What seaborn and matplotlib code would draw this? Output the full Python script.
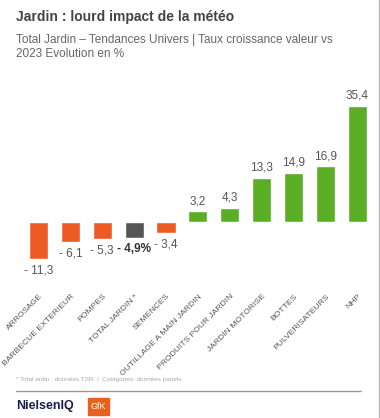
import matplotlib
matplotlib.use('Agg')
import matplotlib.pyplot as plt
import matplotlib.patches as mpatches
import matplotlib.transforms as mtransforms
import seaborn as sns

# data
categories = ['ARROSAGE', 'BARBECUE EXTERIEUR', 'POMPES', 'TOTAL JARDIN *', 'SEMENCES',
              'OUTILLAGE A MAIN JARDIN', 'PRODUITS POUR JARDIN', 'JARDIN MOTORISE',
              'BOTTES', 'PULVERISATEURS', 'NHP']
values = [-11.3, -6.1, -5.3, -4.9, -3.4, 3.2, 4.3, 13.3, 14.9, 16.9, 35.4]
total_label = 'TOTAL JARDIN *'

ORANGE = '#EE5A24'
GREEN = '#59AE26'
DARK = '#555555'

colors = {}
for c, v in zip(categories, values):
    if c == total_label:
        colors[c] = DARK
    elif v < 0:
        colors[c] = ORANGE
    else:
        colors[c] = GREEN

sns.set_style('white')
plt.rcParams['font.family'] = ['Liberation Sans', 'DejaVu Sans']

W, H = 380, 418
fig = plt.figure(figsize=(W / 100, H / 100), dpi=100)
ax = fig.add_axes([22.6 / W, (H - 267.6) / H, 350.4 / W, 170.6 / H])

sns.barplot(x=categories, y=values, hue=categories, palette=colors, legend=False,
            width=0.6, saturation=1, ax=ax)
ax.set_xlim(-0.5, len(categories) - 0.5)
ax.set_ylim(-14, 38)
ax.set_yticks([])
ax.set_ylabel('')
for s in ax.spines.values():
    s.set_visible(False)

# value labels
for i, (c, v) in enumerate(zip(categories, values)):
    txt = f'{abs(v):.1f}'.replace('.', ',')
    if v < 0:
        txt = '- ' + txt
    bold = c == total_label
    if bold:
        txt += '%'
    ax.annotate(txt, (i, v), xytext=(0, 3 if v > 0 else -4), textcoords='offset points',
                ha='center', va='bottom' if v > 0 else 'top', fontsize=8.5,
                color='#333333' if bold else '#555555',
                fontweight='bold' if bold else 'normal')

ax.tick_params(axis='x', length=0, pad=20)
ax.set_xticks(range(len(categories)))
ax.set_xticklabels(categories, rotation=45, ha='right', va='center',
                   rotation_mode='anchor', fontsize=6.1, color='#555555')
# nudge labels a little to the right of the bar centres
shift = mtransforms.ScaledTranslation(3 / 100, 0, fig.dpi_scale_trans)
for lab in ax.get_xticklabels():
    lab.set_transform(lab.get_transform() + shift)

# titles
fig.text(16 / W, 1 - 17.5 / H, 'Jardin : lourd impact de la météo', fontsize=10,
         fontweight='bold', color='#444444', va='center')
fig.text(16 / W, 1 - 34.5 / H,
         'Total Jardin – Tendances Univers | Taux croissance valeur vs\n2023 Evolution en %',
         fontsize=8.5, color='#666666', va='top', linespacing=1.2)

# footer
fig.text(16 / W, 1 - 379 / H, '* Total ardin : données TSR  /  Catégories: données panels',
         fontsize=4.6, color='#aaaaaa', va='center')
fig.add_artist(plt.Line2D([16 / W, 361 / W], [1 - 391 / H, 1 - 391 / H],
                          color='#999999', lw=1))
fig.text(16 / W, 1 - 405.5 / H, 'NielsenIQ', fontsize=9, fontweight='bold',
         color='#1B1F4B', va='center')
fig.add_artist(mpatches.Rectangle((88 / W, 1 - 415 / H), 21 / W, 17 / H,
                                  color='#E8601C', transform=fig.transFigure))
fig.text(98.5 / W, 1 - 406.5 / H, 'GfK', fontsize=6.5, color='white',
         ha='center', va='center')
# thin frame edge on the right, as in the screenshot
fig.add_artist(plt.Line2D([379 / W, 379 / W], [0, 1], color='#bbbbbb', lw=1))

fig.savefig('out.png', dpi=100)
